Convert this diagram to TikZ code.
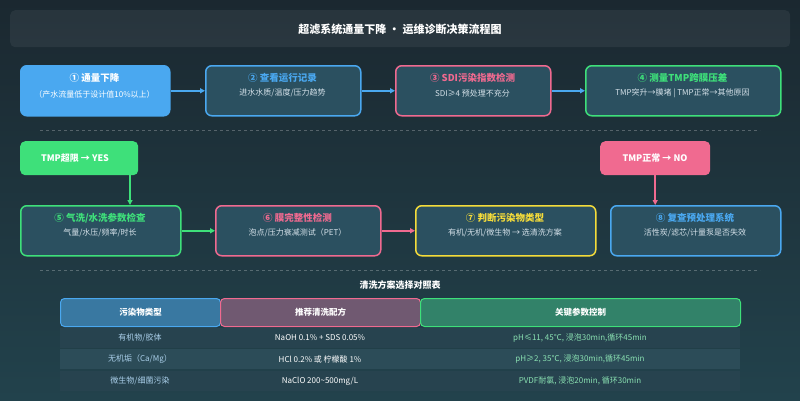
\documentclass[tikz,border=0pt]{standalone}
\usepackage{fontspec}
\setmainfont{Noto Sans CJK SC}
\usetikzlibrary{arrows.meta}
\definecolor{bgA}{HTML}{1B2830}
\definecolor{bgB}{HTML}{22424C}
\definecolor{boxf}{HTML}{2B5060}
\definecolor{cblue}{HTML}{4AA8F0}
\definecolor{cpink}{HTML}{F06A90}
\definecolor{cgreen}{HTML}{3EE07A}
\definecolor{cyel}{HTML}{F5DC3A}
\definecolor{sub}{HTML}{D6E2EA}
\definecolor{rowA}{HTML}{27434F}
\definecolor{rowB}{HTML}{2C4C58}
\tikzset{
 box/.style={draw=#1,line width=1.5pt,rounded corners=6pt,fill=boxf,anchor=north west},
 ttl/.style={font=\bfseries\fontsize{9.5}{11}\selectfont},
 st/.style={font=\fontsize{8}{9}\selectfont,text=sub},
 arr/.style={-{Triangle[length=5pt,width=5pt]},line width=1.5pt,draw=#1},
 hd/.style={draw=#1,line width=1pt,rounded corners=4pt,anchor=north west,text=white,font=\bfseries\fontsize{8.5}{10}\selectfont},
 cell/.style={font=\fontsize{8}{9}\selectfont,text=#1},
}
\begin{document}
\begin{tikzpicture}[x=1pt,y=-1pt]
\useasboundingbox (0,0) rectangle (800,400);
\shade[top color=bgA,bottom color=bgB] (0,0) rectangle (800,400);
\node[fill=white,fill opacity=0.06,rounded corners=5pt,minimum width=780pt,minimum height=37pt,anchor=north west] (tbar) at (10,10) {};
\node[text=white,font=\bfseries\fontsize{11}{12}\selectfont] (title) at (400,29) {超滤系统通量下降 · 运维诊断决策流程图};
% row 1
\node[box=cblue,fill=cblue,minimum width=149pt,minimum height=50pt] (b1) at (20,65) {};
\node[ttl,text=white] at (94.5,78) {① 通量下降};
\node[st,text=white] at (94.5,94) {（产水流量低于设计值10\%以上）};
\node[box=cblue,minimum width=155pt,minimum height=50pt] (b2) at (205,65) {};
\node[ttl,text=cblue] at (282.5,78) {② 查看运行记录};
\node[st] at (282.5,93) {进水水质/温度/压力趋势};
\node[box=cpink,minimum width=155pt,minimum height=50pt] (b3) at (395,65) {};
\node[ttl,text=cpink] at (472.5,78) {③ SDI污染指数检测};
\node[st] at (472.5,93) {SDI≥4 预处理不充分};
\node[box=cgreen,minimum width=195pt,minimum height=50pt] (b4) at (585,65) {};
\node[ttl,text=cgreen] at (682.5,78) {④ 测量TMP跨膜压差};
\node[st] at (682.5,93) {TMP突升→膜堵 | TMP正常→其他原因};
\draw[arr=cblue] (b1.east) -- (b2.west);
\draw[arr=cblue] (b2.east) -- (b3.west);
\draw[arr=cblue] (b3.east) -- (b4.west);
\draw[dashed,draw=white,opacity=0.25] (40,130) -- (760,130);
% decisions
\node[fill=cgreen,rounded corners=5pt,minimum width=118pt,minimum height=34pt,anchor=north west] (yes) at (20,141) {};
\node[text=white,font=\bfseries\fontsize{9}{10}\selectfont] at (75,158) {TMP超限 → YES};
\node[fill=cpink,rounded corners=5pt,minimum width=110pt,minimum height=34pt,anchor=north west] (no) at (600,141) {};
\node[text=white,font=\bfseries\fontsize{9}{10}\selectfont] at (655,158) {TMP正常 → NO};
% row 2
\node[box=cgreen,minimum width=160pt,minimum height=50pt] (b5) at (20,205) {};
\node[ttl,text=cgreen] at (100,218) {⑤ 气洗/水洗参数检查};
\node[st] at (100,233) {气量/水压/频率/时长};
\node[box=cpink,minimum width=165pt,minimum height=50pt] (b6) at (215,205) {};
\node[ttl,text=cpink] at (297.5,218) {⑥ 膜完整性检测};
\node[st] at (297.5,233) {泡点/压力衰减测试（PET）};
\node[box=cyel,minimum width=180pt,minimum height=50pt] (b7) at (415,205) {};
\node[ttl,text=cyel] at (505,218) {⑦ 判断污染物类型};
\node[st] at (505,233) {有机/无机/微生物 → 选清洗方案};
\node[box=cblue,minimum width=170pt,minimum height=50pt] (b8) at (610,205) {};
\node[ttl,text=cblue] at (695,218) {⑧ 复查预处理系统};
\node[st] at (695,233) {活性炭/滤芯/计量泵是否失效};
\coordinate (yd) at (130,175);
\draw[arr=cgreen] (yd) -- (yd|-b5.north);
\draw[arr=cpink] (no.south) -- (no.south|-b8.north);
\draw[arr=cgreen] (b5.east) -- (b6.west);
\draw[arr=cpink] (b6.east) -- (b7.west);
\draw[dashed,draw=white,opacity=0.25] (40,270) -- (760,270);
% table
\node[text=white,font=\bfseries\fontsize{9}{10}\selectfont] (tt) at (400,285) {清洗方案选择对照表};
\node[hd=cblue,fill=cblue!45!boxf,minimum width=160pt,minimum height=28pt] (h1) at (60,298) {污染物类型};
\node[hd=cpink,fill=cpink!35!boxf,minimum width=200pt,minimum height=28pt] (h2) at (220,298) {推荐清洗配方};
\node[hd=cgreen,fill=cgreen!35!boxf,minimum width=320pt,minimum height=28pt] (h3) at (420,298) {关键参数控制};
\fill[rowA] (60,328) rectangle (740,348);
\fill[rowB] (60,349) rectangle (740,369);
\fill[rowA] (60,371) rectangle (740,391);
\node[cell=sub!70!cblue] (r11) at (140,338) {有机物/胶体};
\node[cell=white] (r12) at (320,338) {NaOH 0.1\% + SDS 0.05\%};
\node[cell=cgreen!50!sub] (r13) at (580,338) {pH≤11, 45℃, 浸泡30min,循环45min};
\node[cell=sub!70!cblue] (r21) at (140,359) {无机垢（Ca/Mg）};
\node[cell=white] (r22) at (320,359) {HCl 0.2\% 或 柠檬酸 1\%};
\node[cell=cgreen!50!sub] (r23) at (580,359) {pH≥2, 35℃, 浸泡30min,循环45min};
\node[cell=sub!70!cblue] (r31) at (140,381) {微生物/细菌污染};
\node[cell=white] (r32) at (320,381) {NaClO 200\textasciitilde 500mg/L};
\node[cell=cgreen!50!sub] (r33) at (580,381) {PVDF耐氯, 浸泡20min, 循环30min};
\end{tikzpicture}
\end{document}
